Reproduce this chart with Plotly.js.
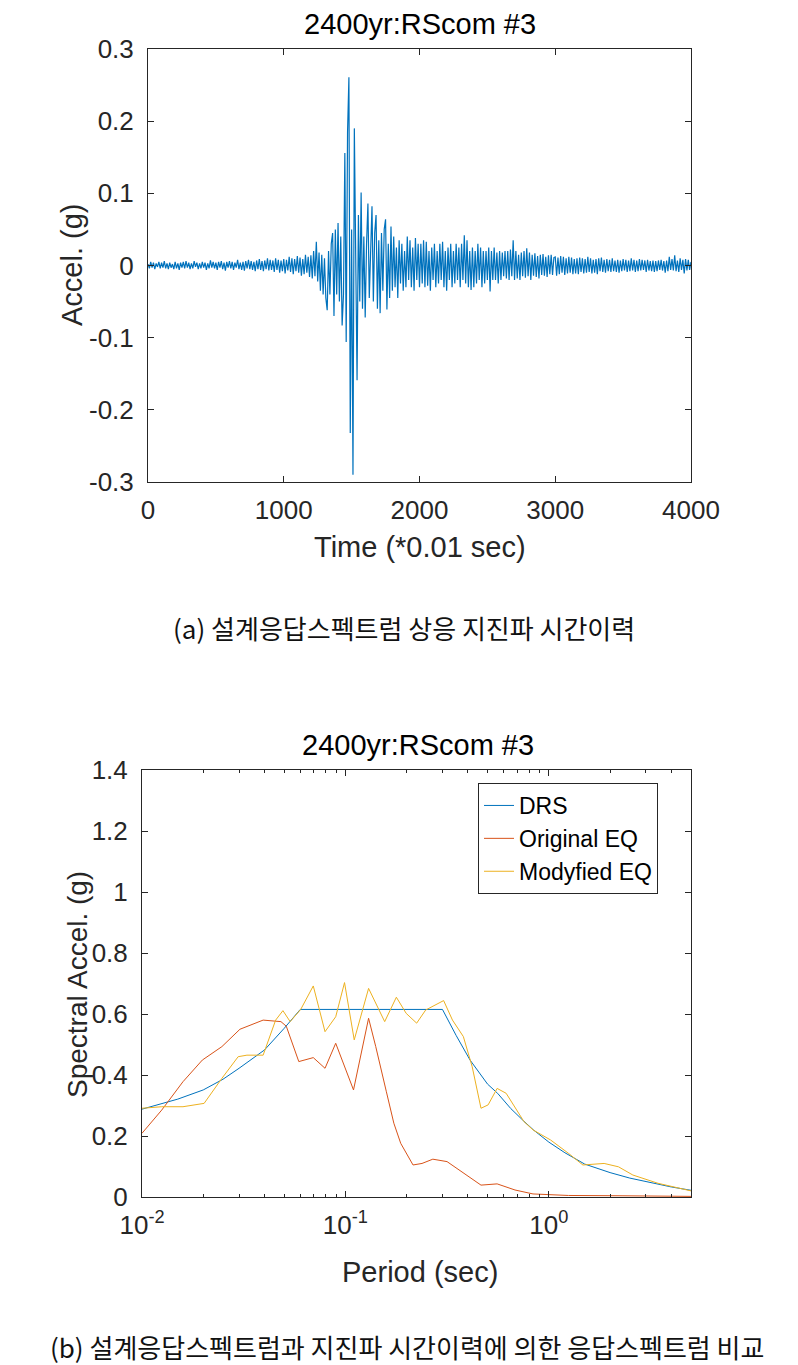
<!DOCTYPE html>
<html>
<head>
<meta charset="utf-8">
<script src="https://cdn.plot.ly/plotly-3.0.1.min.js"></script>
<style>
html,body{margin:0;padding:0;background:#fff;}
#chart{width:798px;height:1365px;}
</style>
</head>
<body>
<div id="chart"></div>
<script>
// ---------- (a) time history: acceleration sampled every 10 steps (0.1 s) ----------
var TIME_START = 0;
var TIME_STEP = 10;
var ACCEL = [
0.002,-0.004,0.005,-0.003,0.004,-0.005,0.003,-0.002,0.005,-0.004,
0.004,-0.003,0.006,-0.004,0.003,-0.005,0.004,-0.003,0.002,-0.005,
0.005,-0.004,0.003,-0.006,0.004,-0.003,0.005,-0.004,0.006,-0.003,
0.004,-0.005,0.003,-0.004,0.006,-0.002,0.004,-0.005,0.003,-0.004,
0.005,-0.003,0.004,-0.006,0.003,-0.004,0.007,-0.003,0.005,-0.004,
0.004,-0.006,0.005,-0.003,0.006,-0.005,0.004,-0.007,0.005,-0.003,
0.006,-0.004,0.005,-0.006,0.004,-0.003,0.008,-0.005,0.004,-0.006,
0.005,-0.007,0.006,-0.004,0.008,-0.005,0.006,-0.006,0.005,-0.008,
0.007,-0.005,0.009,-0.006,0.006,-0.008,0.007,-0.005,0.010,-0.007,
0.008,-0.006,0.007,-0.009,0.010,-0.006,0.008,-0.010,0.007,-0.008,
0.009,-0.011,0.008,-0.007,0.012,-0.009,0.010,-0.012,0.009,-0.008,
0.013,-0.010,0.011,-0.014,0.009,-0.012,0.015,-0.010,0.012,-0.016,
0.014,-0.018,0.020,-0.015,0.033,-0.022,0.018,-0.035,0.015,-0.040,
0.010,-0.045,-0.062,0.020,-0.040,0.030,0.045,-0.070,0.050,-0.040,
0.059,-0.050,0.040,-0.083,-0.040,0.156,-0.106,0.185,0.261,-0.232,
0.050,-0.290,0.190,0.020,-0.159,0.070,-0.050,0.101,-0.060,0.040,
-0.072,0.030,0.086,-0.045,0.035,0.082,-0.050,0.045,0.070,-0.060,
0.035,-0.066,0.045,-0.035,0.050,0.064,-0.061,0.030,-0.045,0.054,
-0.035,0.040,-0.030,0.025,-0.045,0.035,-0.025,0.030,-0.035,0.020,
-0.030,0.040,-0.020,0.035,-0.030,0.025,-0.035,0.038,-0.020,0.030,
-0.030,0.030,-0.025,0.035,-0.030,0.033,-0.028,0.020,-0.035,0.025,
-0.020,0.030,-0.030,0.020,-0.025,0.030,-0.020,0.033,-0.030,0.020,
-0.035,0.025,-0.020,0.030,-0.030,0.020,-0.025,0.030,-0.020,0.025,
-0.030,0.030,-0.020,0.042,-0.025,0.035,-0.030,0.020,-0.034,0.025,
-0.030,0.020,-0.025,0.030,-0.020,0.025,-0.030,0.020,-0.025,0.020,
-0.020,0.025,-0.036,0.020,-0.020,0.025,-0.020,0.018,-0.025,0.020,
-0.020,0.018,-0.015,0.020,-0.018,0.020,-0.020,0.022,-0.015,0.035,
-0.020,0.020,-0.018,0.015,-0.020,0.018,-0.015,0.020,-0.017,0.024,
-0.015,0.018,-0.020,0.015,-0.014,0.017,-0.016,0.013,-0.018,0.015,
-0.013,0.016,-0.014,0.012,-0.016,0.014,-0.012,0.015,-0.013,0.011,
0.012,-0.014,0.011,-0.012,0.013,-0.010,0.012,-0.013,0.010,-0.011,
0.012,-0.010,0.011,-0.012,0.009,-0.011,0.010,-0.012,0.011,-0.009,
0.010,-0.011,0.009,-0.010,0.012,-0.009,0.010,-0.011,0.008,-0.010,
0.009,-0.012,0.010,-0.008,0.011,-0.009,0.008,-0.010,0.009,-0.008,
0.008,-0.009,0.010,-0.008,0.007,-0.009,0.008,-0.010,0.007,-0.008,
0.009,-0.007,0.008,-0.009,0.007,-0.008,0.010,-0.007,0.008,-0.009,
0.007,-0.008,0.009,-0.007,0.008,-0.006,0.007,-0.009,0.008,-0.007,
0.006,-0.008,0.007,-0.009,0.006,-0.008,0.007,-0.006,0.008,-0.007,
0.006,-0.010,0.007,-0.008,0.012,-0.006,0.009,-0.007,0.014,-0.008,
0.007,-0.009,0.010,-0.006,0.008,-0.011,0.009,-0.007,0.008,-0.006,
0.005
];
var TIME_TICKS = [0, 1000, 2000, 3000, 4000];
var TIME_TICKTEXT = ["0", "1000", "2000", "3000", "4000"];
var ACCEL_TICKS = [-0.3, -0.2, -0.1, 0, 0.1, 0.2, 0.3];
var ACCEL_TICKTEXT = ["-0.3", "-0.2", "-0.1", "0", "0.1", "0.2", "0.3"];

// ---------- (b) response spectra ----------
var PERIOD_DRS = [0.01,0.015,0.02,0.025,0.03,0.04,0.05,0.06,0.3,0.35,0.41,0.5,0.56,0.65,0.75,0.84,1.0,1.2,1.5,2.0,2.5,3.0,4.0,5.0];
var SA_DRS     = [0.288,0.321,0.351,0.386,0.422,0.482,0.553,0.615,0.615,0.53,0.449,0.37,0.34,0.29,0.25,0.22,0.18,0.145,0.108,0.08,0.062,0.05,0.033,0.022];

var PERIOD_ORIG = [0.01,0.0125,0.0159,0.0198,0.0247,0.0303,0.0394,0.0482,0.0512,0.059,0.0695,0.0794,0.0896,0.1096,0.130,0.141,0.159,0.173,0.187,0.215,0.238,0.269,0.316,0.372,0.464,0.557,0.682,0.836,1.25,2.29,5.0];
var SA_ORIG     = [0.209,0.285,0.378,0.449,0.493,0.55,0.58,0.575,0.56,0.444,0.457,0.422,0.504,0.351,0.586,0.493,0.345,0.242,0.176,0.105,0.11,0.124,0.116,0.083,0.039,0.043,0.023,0.01,0.005,0.004,0.002];

var PERIOD_MOD = [0.01,0.0125,0.0159,0.0202,0.0247,0.0297,0.0328,0.0394,0.0454,0.0493,0.0535,0.0603,0.0695,0.0794,0.0896,0.099,0.1105,0.130,0.156,0.178,0.199,0.224,0.248,0.269,0.304,0.336,0.38,0.42,0.464,0.503,0.557,0.617,0.755,0.836,1.02,1.25,1.47,1.87,2.2,2.59,3.44,5.0];
var SA_MOD     = [0.291,0.296,0.296,0.307,0.389,0.46,0.465,0.465,0.58,0.611,0.575,0.615,0.692,0.542,0.591,0.703,0.515,0.684,0.575,0.655,0.602,0.57,0.613,0.626,0.644,0.58,0.526,0.427,0.291,0.302,0.356,0.34,0.247,0.22,0.187,0.143,0.105,0.11,0.099,0.072,0.045,0.02];

var SERIES_NAMES = ["DRS", "Original EQ", "Modyfied EQ"];
var PERIOD_TICKS = [0.01, 0.1, 1];
var PERIOD_TICKTEXT = ["10<sup>-2</sup>", "10<sup>-1</sup>", "10<sup>0</sup>"];
var PERIOD_MINOR = [0.02,0.03,0.04,0.05,0.06,0.07,0.08,0.09,0.2,0.3,0.4,0.5,0.6,0.7,0.8,0.9,2,3,4];
var SA_TICKS = [0, 0.2, 0.4, 0.6, 0.8, 1, 1.2, 1.4];
var SA_TICKTEXT = ["0", "0.2", "0.4", "0.6", "0.8", "1", "1.2", "1.4"];

var TITLE_TEXT = "2400yr:RScom #3";
var CAPTION_A = "(a) 설계응답스펙트럼 상응 지진파 시간이력";
var CAPTION_B = "(b) 설계응답스펙트럼과 지진파 시간이력에 의한 응답스펙트럼 비교";

// ---------- styling ----------
var W = 798, H = 1365;
function px(x){ return x / W; }
function py(y){ return 1 - y / H; }
var FONT = "Liberation Sans, Arial, Helvetica, sans-serif";
var AXC = "#262626";
var C_BLUE = "#0072BD", C_RED = "#D95319", C_YEL = "#EDB120";

var traces = [
  {type:"scatter", mode:"lines", x0:TIME_START, dx:TIME_STEP, y:ACCEL,
   xaxis:"x", yaxis:"y", line:{color:C_BLUE, width:1.2}, showlegend:false, hoverinfo:"skip"},
  {type:"scatter", mode:"lines", x:PERIOD_DRS, y:SA_DRS, name:SERIES_NAMES[0],
   xaxis:"x2", yaxis:"y2", line:{color:C_BLUE, width:1}},
  {type:"scatter", mode:"lines", x:PERIOD_ORIG, y:SA_ORIG, name:SERIES_NAMES[1],
   xaxis:"x2", yaxis:"y2", line:{color:C_RED, width:1}},
  {type:"scatter", mode:"lines", x:PERIOD_MOD, y:SA_MOD, name:SERIES_NAMES[2],
   xaxis:"x2", yaxis:"y2", line:{color:C_YEL, width:1}}
];

function axisBase(){
  return {
    showgrid:false, zeroline:false, showline:true, linecolor:AXC, linewidth:1,
    mirror:"ticks", ticks:"inside", ticklen:6, tickwidth:1, tickcolor:AXC,
    tickfont:{family:FONT, size:26, color:AXC}, fixedrange:true
  };
}

var xa = Object.assign(axisBase(), {domain:[px(148), px(691)], anchor:"y",
  range:[0,4000], tickmode:"array", tickvals:TIME_TICKS, ticktext:TIME_TICKTEXT, ticklabelstandoff:5});
var ya = Object.assign(axisBase(), {domain:[py(482), py(49)], anchor:"x",
  range:[-0.3,0.3], tickmode:"array", tickvals:ACCEL_TICKS, ticktext:ACCEL_TICKTEXT, ticklabelstandoff:8});
var xa2 = Object.assign(axisBase(), {domain:[px(142), px(691)], anchor:"y2", type:"log",
  range:[Math.log10(0.01), Math.log10(5)], tickmode:"array", tickvals:PERIOD_TICKS, ticktext:PERIOD_TICKTEXT,
  ticklabelstandoff:5,
  minor:{tickmode:"array", tickvals:PERIOD_MINOR, ticks:"inside", ticklen:3, tickcolor:AXC, showgrid:false}});
var ya2 = Object.assign(axisBase(), {domain:[py(1197), py(770)], anchor:"x2",
  range:[0,1.4], tickmode:"array", tickvals:SA_TICKS, ticktext:SA_TICKTEXT, ticklabelstandoff:8});

function ann(text, x, y, size, extra){
  return Object.assign({text:text, x:px(x), y:py(y), xref:"paper", yref:"paper",
    xanchor:"center", yanchor:"middle", showarrow:false,
    font:{family:FONT, size:size, color:"#000"}}, extra || {});
}

var annotations = [
  ann(TITLE_TEXT, 420, 24, 29),
  ann("Time (*0.01 sec)", 420, 547, 29, {font:{family:FONT, size:29, color:AXC}}),
  ann("Accel. (g)", 72, 265, 29, {textangle:-90, font:{family:FONT, size:29, color:AXC}}),
  ann(TITLE_TEXT, 418, 745, 29),
  ann("Period (sec)", 420, 1272, 29, {font:{family:FONT, size:29, color:AXC}}),
  ann("Spectral Accel. (g)", 77, 985, 28, {textangle:-90, font:{family:FONT, size:28, color:AXC}}),
  ann(CAPTION_A, 404, 628, 26, {font:{family:"Noto Sans CJK KR, sans-serif", size:26, color:"#111"}}),
  ann(CAPTION_B, 407, 1346, 26, {font:{family:"Noto Sans CJK KR, sans-serif", size:26, color:"#111"}})
];

var layout = {
  width:W, height:H, margin:{l:0, r:0, t:0, b:0},
  paper_bgcolor:"#fff", plot_bgcolor:"#fff",
  xaxis:xa, yaxis:ya, xaxis2:xa2, yaxis2:ya2,
  showlegend:true,
  legend:{x:px(478), y:py(783), xanchor:"left", yanchor:"top",
    bgcolor:"#fff", bordercolor:AXC, borderwidth:1,
    font:{family:FONT, size:23, color:"#000"}, tracegroupgap:0, itemwidth:30},
  annotations:annotations
};

Plotly.newPlot("chart", traces, layout, {staticPlot:true, displayModeBar:false});
</script>
</body>
</html>
